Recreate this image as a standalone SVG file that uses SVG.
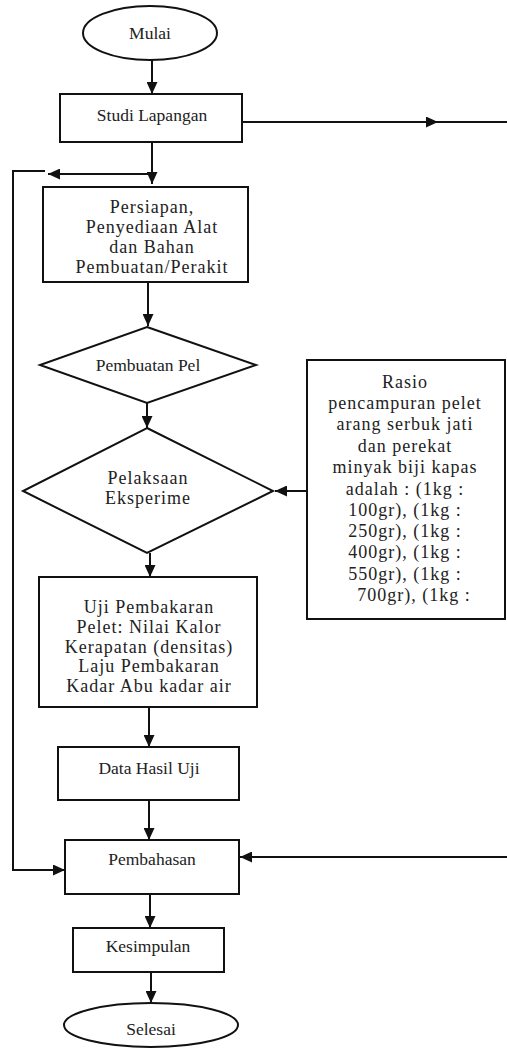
<svg xmlns="http://www.w3.org/2000/svg" width="507" height="1050" viewBox="0 0 507 1050">
<defs>
<marker id="ah" markerUnits="userSpaceOnUse" markerWidth="12" markerHeight="11" refX="12" refY="5.5" orient="auto">
<path d="M0,0 L12,5.5 L0,11 z" fill="#111"/>
</marker>
<style>
.s{fill:#fff;stroke:#111;stroke-width:2}
.c{fill:none;stroke:#111;stroke-width:2}
text{font-family:'Liberation Serif','DejaVu Serif',serif;fill:#222;text-anchor:middle}
.t{font-size:17.5px}
.m{font-size:18px;letter-spacing:1px}
</style>
</defs>
<rect width="507" height="1050" fill="#fff"/>
<g id="connectors">
<line class="c" x1="152" y1="60" x2="152" y2="94" marker-end="url(#ah)"/>
<line class="c" x1="242" y1="122" x2="438" y2="122" marker-end="url(#ah)"/>
<line class="c" x1="436" y1="122" x2="507" y2="122" stroke-width="1.5"/>
<line class="c" x1="152" y1="142" x2="152" y2="184" marker-end="url(#ah)"/>
<line class="c" x1="152" y1="174" x2="48" y2="174" marker-end="url(#ah)"/>
<path class="c" d="M45,171 H13 V870 H65" stroke-width="1.5" marker-end="url(#ah)"/>
<line class="c" x1="148" y1="282" x2="148" y2="326" marker-end="url(#ah)"/>
<line class="c" x1="147" y1="403" x2="147" y2="428" marker-end="url(#ah)"/>
<line class="c" x1="307" y1="491" x2="275" y2="491" marker-end="url(#ah)"/>
<line class="c" x1="150" y1="553" x2="150" y2="577" marker-end="url(#ah)"/>
<line class="c" x1="149" y1="707" x2="149" y2="747" marker-end="url(#ah)"/>
<line class="c" x1="149" y1="800" x2="149" y2="840" marker-end="url(#ah)"/>
<line class="c" x1="507" y1="857" x2="240" y2="857" stroke-width="1.5" marker-end="url(#ah)"/>
<line class="c" x1="150" y1="894" x2="150" y2="928" marker-end="url(#ah)"/>
<line class="c" x1="151" y1="972" x2="151" y2="1003" marker-end="url(#ah)"/>
</g>
<g id="mulai">
<ellipse class="s" cx="150" cy="33" rx="67" ry="27"/>
<text class="t" x="150" y="39" font-family="Liberation Serif">Mulai</text>
</g>
<g id="studi">
<rect class="s" x="60" y="94" width="182" height="48"/>
<text class="t" x="152" y="121">Studi Lapangan</text>
</g>
<g id="persiapan">
<rect class="s" x="43" y="187" width="205" height="95"/>
<text class="m" x="152" y="213">Persiapan,</text>
<text class="m" x="152" y="233">Penyediaan Alat</text>
<text class="m" x="152" y="253">dan Bahan</text>
<text class="m" x="152" y="273">Pembuatan/Perakit</text>
</g>
<g id="pembuatan">
<polygon class="s" points="147,327 256,365 147,403 40,365"/>
<text class="t" x="148" y="371">Pembuatan Pel</text>
</g>
<g id="pelaksaan">
<polygon class="s" points="147,428 273,491 147,553 23,491"/>
<text class="m" x="148" y="484">Pelaksaan</text>
<text class="m" x="148" y="504">Eksperime</text>
</g>
<g id="rasio">
<rect class="s" x="307" y="360" width="198" height="259"/>
<text class="m" x="405" y="388">Rasio</text>
<text class="m" x="405" y="409">pencampuran pelet</text>
<text class="m" x="405" y="430">arang serbuk jati</text>
<text class="m" x="405" y="452">dan perekat</text>
<text class="m" x="405" y="473">minyak biji kapas</text>
<text class="m" x="405" y="495">adalah : (1kg :</text>
<text class="m" x="405" y="516">100gr), (1kg :</text>
<text class="m" x="405" y="537">250gr), (1kg :</text>
<text class="m" x="405" y="558">400gr), (1kg :</text>
<text class="m" x="405" y="580">550gr), (1kg :</text>
<text class="m" x="414" y="601">700gr), (1kg :</text>
</g>
<g id="uji">
<rect class="s" x="39" y="577" width="218" height="130"/>
<text class="m" x="149" y="613">Uji Pembakaran</text>
<text class="m" x="149" y="633">Pelet: Nilai Kalor</text>
<text class="m" x="149" y="653">Kerapatan (densitas)</text>
<text class="m" x="149" y="672">Laju Pembakaran</text>
<text class="m" x="149" y="692">Kadar Abu kadar air</text>
</g>
<g id="data">
<rect class="s" x="58" y="747" width="181" height="53"/>
<text class="t" x="149" y="774">Data Hasil Uji</text>
</g>
<g id="pembahasan">
<rect class="s" x="65" y="840" width="174" height="54"/>
<text class="t" x="152" y="865">Pembahasan</text>
</g>
<g id="kesimpulan">
<rect class="s" x="73" y="928" width="151" height="44"/>
<text class="t" x="148" y="952">Kesimpulan</text>
</g>
<g id="selesai">
<ellipse class="s" cx="151" cy="1025" rx="87" ry="22"/>
<text class="t" x="151" y="1035">Selesai</text>
</g>
</svg>
